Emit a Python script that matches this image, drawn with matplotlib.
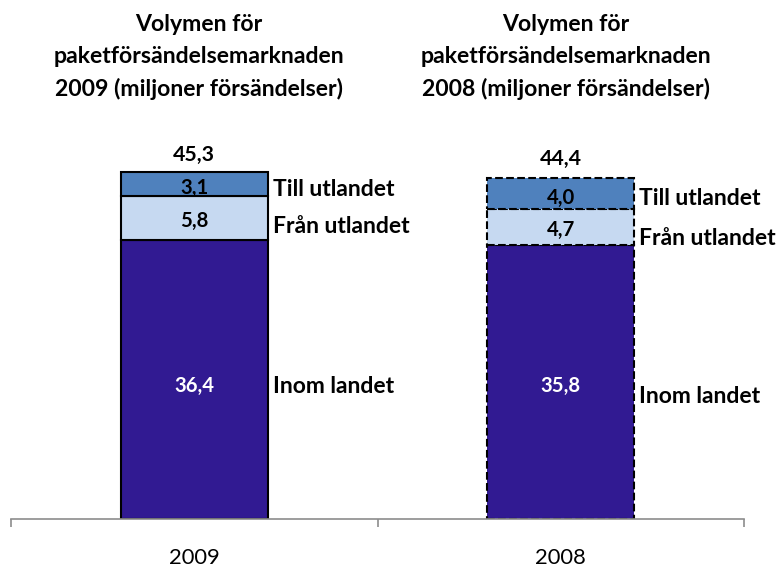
import matplotlib
matplotlib.use("Agg")
import matplotlib.pyplot as plt

years = ["2009", "2008"]
inom = [36.4, 35.8]
fran = [5.8, 4.7]
till = [3.1, 4.0]
totals = [45.3, 44.4]
series_names = ["Inom landet", "Från utlandet", "Till utlandet"]
titles = ["Volymen för\npaketförsändelsemarknaden\n2009 (miljoner försändelser)",
          "Volymen för\npaketförsändelsemarknaden\n2008 (miljoner försändelser)"]

colors = ["#311A92", "#C6D9F1", "#4F81BD"]
FONT = ["Lato", "DejaVu Sans"]

W, H = 778, 571
fig = plt.figure(figsize=(W / 100, H / 100), dpi=100)
renderer = fig.canvas.get_renderer()


def size_for(text, target_px, weight="bold", ref=20.0):
    t = fig.text(0, 0, text, fontsize=ref, fontweight=weight, family=FONT)
    w = t.get_window_extent(renderer).width
    t.remove()
    return ref * target_px / w


def pts(px):
    return px * 72 / 100


ax_left, ax_right, ax_bottom, ax_top = 11, 744, 519, 130
ax = fig.add_axes([ax_left / W, 1 - ax_bottom / H, (ax_right - ax_left) / W, (ax_bottom - ax_top) / H])

px_per_unit = 347 / 45.3
ax.set_ylim(0, (ax_bottom - ax_top) / px_per_unit)
ax.set_xlim(-0.5, 1.5)

fs_val = size_for("36,4", 40)
fs_lab = size_for("Till utlandet", 122)
fs_tot = size_for("45,3", 42)
fs_tick = size_for("2009", 51, weight="normal")
fs_title = size_for("paketförsändelsemarknaden", 291)

x = [0, 1]
width = 0.40
series = [inom, fran, till]
styles = ["solid", "dashed"]
# visual-centre offsets (pixels, downward) of texts relative to segment centre
val_off = [[5, 2, 3], [3, 2, 3.5]]
lab_off = [[5, 7, 4], [13, 10, 3.5]]
cap = 0.36 * fs_val * 100 / 72
capl = 0.36 * fs_lab * 100 / 72
capt = 0.36 * fs_tot * 100 / 72
for i in range(2):
    bottom = 0
    for s, vals in enumerate(series):
        ax.bar(x[i], vals[i], width, bottom=bottom, color=colors[s], edgecolor="black",
               linewidth=1.5, linestyle=styles[i], zorder=2)
        tcol = "white" if s == 0 else "black"
        cy = bottom + vals[i] / 2
        lbl = f"{vals[i]:.1f}".replace(".", ",")
        ax.annotate(lbl, (x[i], cy), xytext=(0, -pts(val_off[i][s] + cap)),
                    textcoords="offset points", ha="center", va="baseline",
                    fontsize=fs_val, fontweight="bold", color=tcol, family=FONT)
        ax.annotate(series_names[s], (x[i] + width / 2, cy),
                    xytext=(pts(5), -pts(lab_off[i][s] + capl)),
                    textcoords="offset points", ha="left", va="baseline", fontsize=fs_lab,
                    fontweight="bold", color="black", family=FONT)
        bottom += vals[i]
    rise = [19, 22][i]
    ax.annotate(f"{totals[i]:.1f}".replace(".", ","), (x[i], totals[i]),
                xytext=(0, pts(rise - capt)), textcoords="offset points",
                ha="center", va="baseline", fontsize=fs_tot, fontweight="bold", family=FONT)

for sp in ["top", "right", "left"]:
    ax.spines[sp].set_visible(False)
ax.spines["bottom"].set_color("#8c8c8c")
ax.spines["bottom"].set_linewidth(1.2)
ax.set_yticks([])
ax.set_xticks(x)
ax.set_xticklabels(years, fontsize=fs_tick, family=FONT)
ax.tick_params(axis="x", length=0, pad=21)
ax.set_xticks([-0.5, 0.5, 1.5], minor=True)
ax.tick_params(axis="x", which="minor", length=6, color="#8c8c8c", width=1.2)

for cx, t in zip([199, 566], titles):
    fig.text(cx / W, 1 - 14 / H, t, ha="center", va="top", fontsize=fs_title, fontweight="bold",
             linespacing=1.62, family=FONT)

fig.savefig("out.png", dpi=100)
